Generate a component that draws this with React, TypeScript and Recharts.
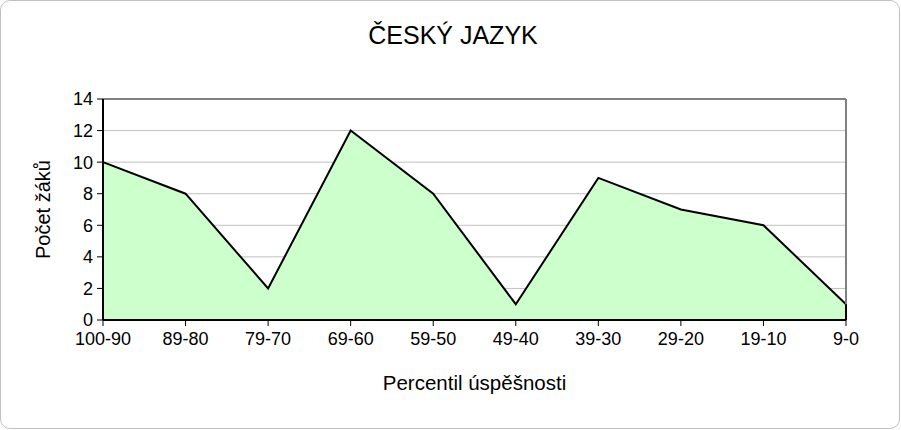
import { Area, AreaChart, CartesianGrid, ReferenceLine, XAxis, YAxis } from "recharts";

const categories = ["100-90", "89-80", "79-70", "69-60", "59-50", "49-40", "39-30", "29-20", "19-10", "9-0"];
const pupils = [10, 8, 2, 12, 8, 1, 9, 7, 6, 1];
const yTicks = [0, 2, 4, 6, 8, 10, 12, 14];

const data = categories.map((c, i) => ({ range: c, count: pupils[i] }));
const font = "'Liberation Sans', Arial, sans-serif";

function App() {
  const last = data[data.length - 1];
  return (
    <div style={{ position: "absolute", left: 0, top: 0, width: 901, height: 430, background: "#fff", fontFamily: font }}>
      <div
        style={{
          position: "absolute",
          left: 0,
          top: 0,
          width: 900,
          height: 429,
          boxSizing: "border-box",
          border: "1px solid #c0c0c0",
          borderRadius: 10,
        }}
      />
      <AreaChart
        width={901}
        height={430}
        data={data}
        margin={{ top: 99, right: 55, bottom: 80, left: 43 }}
        style={{ position: "absolute", left: 0, top: 0 }}
      >
        <text x={453} y={44} textAnchor="middle" fontSize={25} fontFamily={font} fill="#000">
          ČESKÝ JAZYK
        </text>
        <CartesianGrid horizontal vertical={false} stroke="#c0c0c0" strokeWidth={1} />
        <XAxis
          dataKey="range"
          stroke="#000"
          strokeWidth={2}
          tick={{ fill: "#000", fontSize: 18, fontFamily: font }}
          tickLine={{ stroke: "#000", strokeWidth: 1 }}
          tickSize={6}
          tickMargin={6}
          height={30}
          interval={0}
          label={{ value: "Percentil úspěšnosti", position: "insideBottom", offset: -40, fill: "#000", fontSize: 20.5, fontFamily: font }}
        />
        <YAxis
          domain={[0, 14]}
          ticks={yTicks}
          stroke="#000"
          strokeWidth={2}
          tick={{ fill: "#000", fontSize: 18, fontFamily: font }}
          tickLine={{ stroke: "#000", strokeWidth: 1 }}
          tickSize={6}
          tickMargin={4}
          width={60}
          label={{ value: "Počet žáků", angle: -90, position: "insideLeft", offset: 0, fill: "#000", fontSize: 20, fontFamily: font, style: { textAnchor: "middle" } }}
        />
        <ReferenceLine y={14} stroke="#808080" strokeWidth={2} />
        <ReferenceLine x={last.range} stroke="#808080" strokeWidth={2} />
        <Area
          type="linear"
          dataKey="count"
          stroke="#000"
          strokeWidth={2}
          fill="#ccffcc"
          fillOpacity={1}
          isAnimationActive={false}
          dot={false}
          activeDot={false}
        />
        <ReferenceLine
          segment={[
            { x: last.range, y: 0 },
            { x: last.range, y: last.count },
          ]}
          stroke="#000"
          strokeWidth={2}
        />
      </AreaChart>
    </div>
  );
}

export default App;
